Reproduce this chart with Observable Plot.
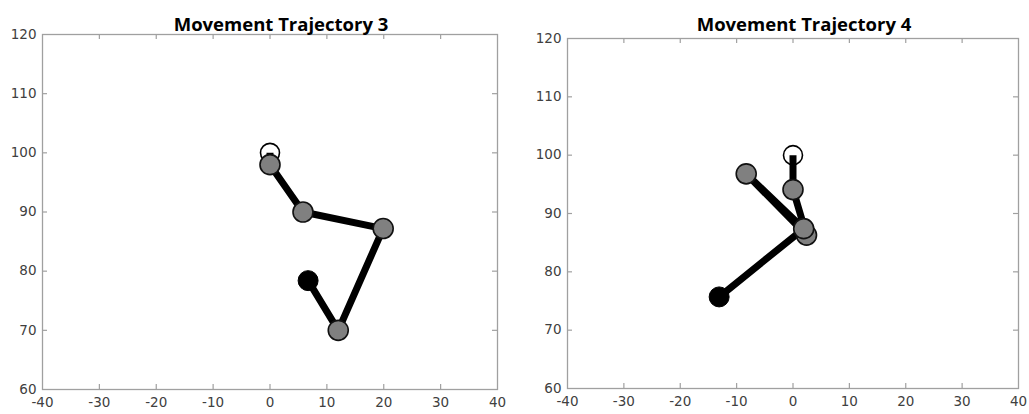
<!DOCTYPE html>
<html>
<head>
<meta charset="utf-8">
<script src="https://cdn.jsdelivr.net/npm/d3@7"></script>
<script src="https://cdn.jsdelivr.net/npm/@observablehq/plot@0.6"></script>
<style>
  html, body { margin: 0; padding: 0; background: #fff; }
  #wrap { position: relative; width: 1029px; height: 414px; overflow: hidden; }
  #wrap svg { position: absolute; top: 0; }
</style>
</head>
<body>
<div id="wrap"></div>
<script>
// Trajectory 3
const traj3X = [0, 0, 5.8, 19.9, 12, 6.7];
const traj3Y = [100, 98, 90, 87.2, 70, 78.4];
// Trajectory 4
const traj4X = [0, 0, 2.4, -8.3, 1.9, -13.1];
const traj4Y = [100, 94.1, 86.3, 96.8, 87.4, 75.7];

const titles = ["Movement Trajectory 3", "Movement Trajectory 4"];
const xTicks = [-40, -30, -20, -10, 0, 10, 20, 30, 40];
const yTicks = [60, 70, 80, 90, 100, 110, 120];

function makeRows(xs, ys) {
  return xs.map((x, i) => ({
    x, y: ys[i],
    kind: i === 0 ? "start" : (i === xs.length - 1 ? "end" : "mid")
  }));
}

function panel(rows, title, geom) {
  const {left, width, mt, mb, ml, mr, titleDx} = geom;
  const H = 414;
  const innerH = H - mt - mb;
  const innerW = width - ml - mr;
  const tickLen = 5;
  const frameColor = "#a0a0a0";
  const svg = Plot.plot({
    width, height: H,
    marginTop: mt, marginBottom: mb, marginLeft: ml, marginRight: mr,
    style: {fontFamily: "DejaVu Sans, sans-serif", fontSize: "13.5px", color: "#404040", background: "#fff"},
    x: {domain: [-40, 40], ticks: xTicks},
    y: {domain: [60, 120], ticks: yTicks},
    marks: [
      Plot.frame({stroke: frameColor, strokeWidth: 1.3}),
      Plot.tickX(xTicks.slice(1, -1), {x: d => d, stroke: frameColor, strokeWidth: 1.2, insetTop: innerH - tickLen}),
      Plot.tickX(xTicks.slice(1, -1), {x: d => d, stroke: frameColor, strokeWidth: 1.2, insetBottom: innerH - tickLen}),
      Plot.tickY(yTicks.slice(1, -1), {y: d => d, stroke: frameColor, strokeWidth: 1.2, insetRight: innerW - tickLen}),
      Plot.tickY(yTicks.slice(1, -1), {y: d => d, stroke: frameColor, strokeWidth: 1.2, insetLeft: innerW - tickLen}),
      Plot.axisX(xTicks, {anchor: "bottom", tickSize: 0, tickPadding: 8, fill: "#404040", label: null, tickFormat: d => String(d)}),
      Plot.axisY(yTicks, {anchor: "left", tickSize: 0, tickPadding: 6, fill: "#404040", label: null, tickFormat: d => String(d)}),
      Plot.dot(rows.filter(d => d.kind === "start"), {x: "x", y: "y", r: 9.5, fill: "none", stroke: "#000", strokeWidth: 1.6}),
      Plot.line(rows, {x: "x", y: "y", stroke: "#000", strokeWidth: 7, strokeLinecap: "butt"}),
      Plot.dot(rows.filter(d => d.kind === "mid"), {x: "x", y: "y", r: 10, fill: "#808080", stroke: "#111", strokeWidth: 1.6}),
      Plot.dot(rows.filter(d => d.kind === "end"), {x: "x", y: "y", r: 10, fill: "#000", stroke: "#000", strokeWidth: 1}),
      Plot.text([title], {text: d => d, frameAnchor: "top", dy: -mt + 17, dx: titleDx, fontWeight: "bold", fontSize: 18.5, fontFamily: "Open Sans, sans-serif", fill: "#000"})
    ]
  });
  svg.style.left = left + "px";
  return svg;
}

const wrap = document.getElementById("wrap");
wrap.appendChild(panel(makeRows(traj3X, traj3Y), titles[0], {left: 0, width: 514, mt: 34, mb: 25, ml: 42, mr: 17, titleDx: 11}));
wrap.appendChild(panel(makeRows(traj4X, traj4Y), titles[1], {left: 514, width: 515, mt: 38, mb: 26, ml: 53, mr: 11, titleDx: 11}));
</script>
</body>
</html>
